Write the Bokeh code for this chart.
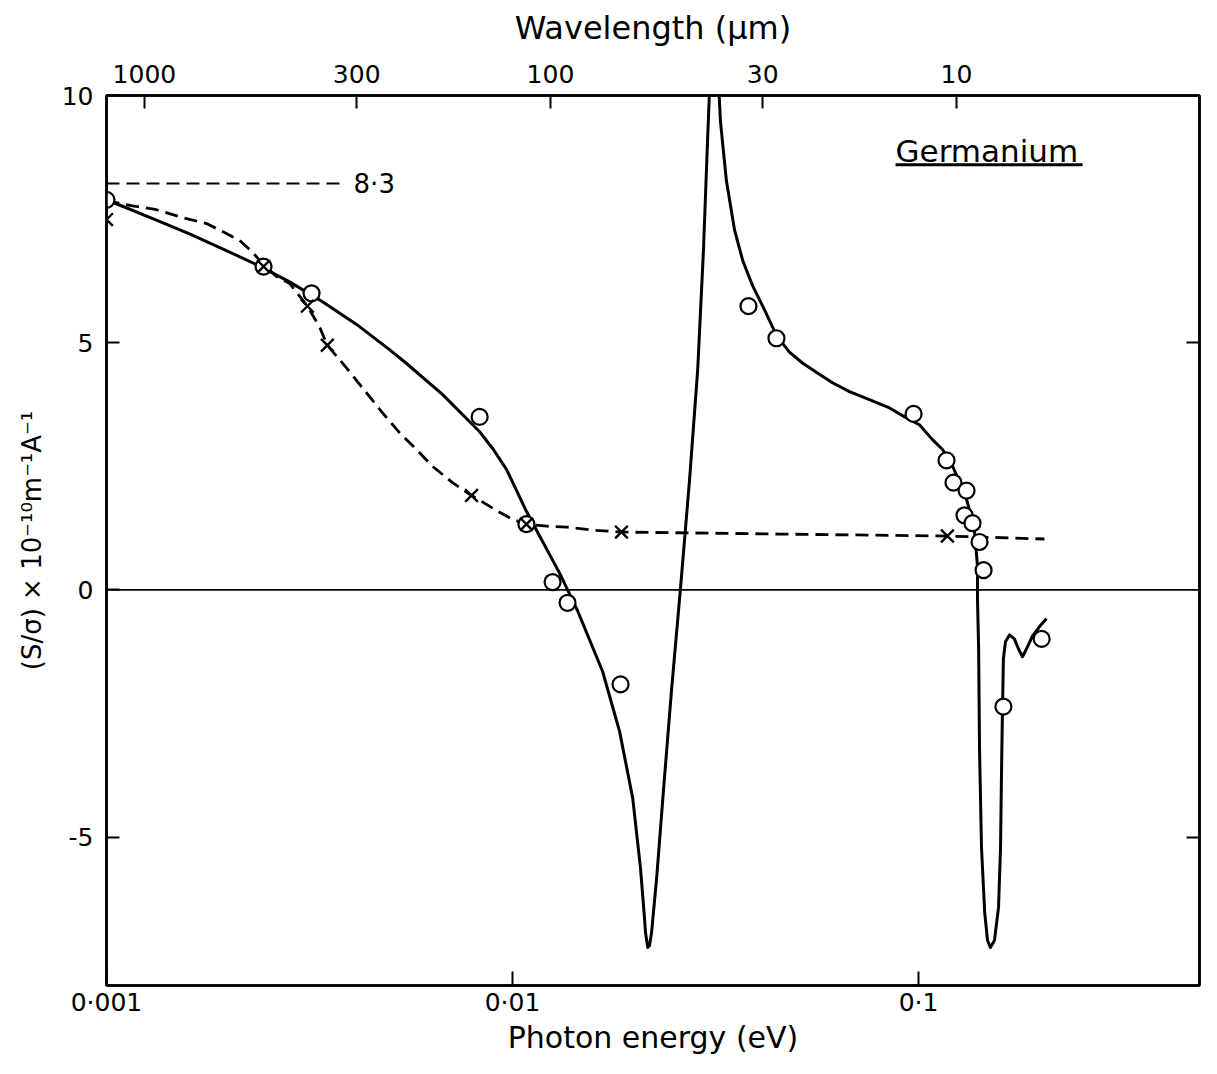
from bokeh.plotting import figure
from bokeh.models import Range1d, LogScale, LogAxis, LinearAxis, FixedTicker, Span, Label
from bokeh.embed import file_html
from bokeh.resources import INLINE

# ---------------- data ----------------
# photon energy (eV) and (S/sigma) x 1e-10 m^-1 A^-1
solid_E = [0.001, 0.001095, 0.001327, 0.001601, 0.001931, 0.002342, 0.002825, 0.003404,
           0.00413, 0.004977, 0.005483, 0.00673, 0.008298, 0.008972, 0.009661, 0.01082,
           0.01166, 0.01306, 0.01446, 0.01667, 0.01835, 0.01977, 0.02066, 0.02113, 0.02126,
           0.02153, 0.02175, 0.022, 0.02265, 0.02356, 0.02466, 0.02594, 0.02729, 0.02858,
           0.02953, 0.03022, 0.03076, 0.03126, 0.03199, 0.03251, 0.03364, 0.03524, 0.0369,
           0.03899, 0.04178, 0.04467, 0.04808, 0.05177, 0.05637, 0.06138, 0.06761, 0.07568,
           0.08482, 0.09337, 0.1005, 0.1082, 0.1146, 0.1213, 0.1262, 0.1313, 0.1343,
           0.1374, 0.1397, 0.1397, 0.1406, 0.1413, 0.1429, 0.1455, 0.1479, 0.1503, 0.1538,
           0.1574, 0.1592, 0.16, 0.161, 0.1618, 0.1637, 0.1675, 0.1722, 0.1762, 0.1803,
           0.1845, 0.1909, 0.1986, 0.2066]
solid_S = [7.89, 7.76, 7.48, 7.20, 6.90, 6.58, 6.23, 5.83,
           5.37, 4.86, 4.58, 3.95, 3.20, 2.84, 2.44, 1.59,
           1.09, 0.34, -0.42, -1.65, -2.86, -4.21, -5.62, -6.62, -6.93,
           -7.23, -7.19, -6.93, -5.82, -4.01, -1.99, 0.06, 2.23, 4.45,
           6.87, 9.08, 10.69, 11.09, 10.69, 9.48, 8.27, 7.27, 6.66,
           6.16, 5.66, 5.15, 4.81, 4.59, 4.39, 4.19, 4.01, 3.85,
           3.68, 3.48, 3.34, 3.04, 2.84, 2.50, 2.19, 1.83, 1.53,
           1.17, 0.48, -0.18, -1.19, -3.20, -5.21, -6.52, -7.09, -7.23, -7.09,
           -6.42, -5.21, -3.81, -2.36, -1.39, -1.05, -0.91, -0.99, -1.19, -1.35,
           -1.19, -0.93, -0.74, -0.58]

dash_E = [0.001, 0.001159, 0.001327, 0.001538, 0.001763, 0.001931, 0.002127, 0.002289,
          0.002422, 0.002622, 0.002825, 0.003125, 0.003346, 0.003499, 0.0039, 0.004365,
          0.004786, 0.005268, 0.0058, 0.006353, 0.007115, 0.007925, 0.00863, 0.00929,
          0.01, 0.01082, 0.01213, 0.01358, 0.01574, 0.01855, 0.04546, 0.1178, 0.2042]
dash_S = [7.87, 7.77, 7.69, 7.53, 7.41, 7.25, 7.07, 6.83,
          6.60, 6.34, 6.20, 5.74, 5.32, 4.95, 4.49, 3.99,
          3.58, 3.18, 2.84, 2.50, 2.17, 1.91, 1.73, 1.57,
          1.43, 1.33, 1.29, 1.27, 1.21, 1.17, 1.13, 1.09, 1.03]

circle_E = [0.001, 0.002437, 0.003199, 0.008298, 0.01082, 0.01255, 0.01366, 0.01845,
            0.03812, 0.04467, 0.09722, 0.1172, 0.1219, 0.1313, 0.1298, 0.1358, 0.1413,
            0.1446, 0.1618, 0.201]
circle_S = [7.89, 6.54, 6.00, 3.50, 1.33, 0.16, -0.26, -1.91,
            5.74, 5.09, 3.56, 2.62, 2.17, 2.01, 1.51, 1.35, 0.97,
            0.40, -2.36, -0.99]

cross_E = [0.001, 0.002437, 0.003125, 0.003499, 0.007925, 0.01082, 0.01855, 0.1178]
cross_S = [7.49, 6.54, 5.74, 4.95, 1.91, 1.33, 1.17, 1.09]

level_E = [0.001, 0.00377]      # extent of the 8.3 reference line
level_S = 8.22
level_text = "8·3"
level_label_E = 0.00406

energy_ticks = [0.001, 0.01, 0.1]
energy_labels = {0.001: "0·001", 0.01: "0·01", 0.1: "0·1"}
wavelength_ticks = [1000, 300, 100, 30, 10]
y_ticks = [-5, 0, 5, 10]
y_labels = {-5: "-5", 0: "0", 5: "5", 10: "10"}

E_MIN, E_MAX = 0.001, 0.492
HC = 1.24  # eV * um

FONT = "DejaVu Sans"

p = figure(width=1201, height=1058, x_axis_type="log",
           x_range=Range1d(E_MIN, E_MAX), y_range=Range1d(-8, 10),
           output_backend="svg", toolbar_location=None,
           min_border_left=106, min_border_top=95, min_border_right=2, min_border_bottom=73)
p.grid.visible = False
p.outline_line_color = "black"
p.outline_line_width = 2.5
p.background_fill_color = "white"
p.border_fill_color = "white"

def style_axis(ax, tick_in=13):
    ax.axis_line_width = 2.5
    ax.axis_line_color = "black"
    ax.major_tick_in = tick_in
    ax.major_tick_out = 0
    ax.major_tick_line_width = 2
    ax.major_tick_line_color = "black"
    ax.minor_tick_line_color = None
    ax.major_label_text_font = FONT
    ax.major_label_text_font_size = "25px"
    ax.major_label_text_color = "black"
    ax.axis_label_text_font = FONT
    ax.axis_label_text_font_style = "normal"
    ax.axis_label_text_color = "black"

xa = p.xaxis[0]
xa.ticker = FixedTicker(ticks=energy_ticks)
xa.major_label_overrides = energy_labels
style_axis(xa, 14)
xa.major_label_standoff = 2
xa.axis_label = "Photon energy (eV)"
xa.axis_label_text_font_size = "30px"
xa.axis_label_standoff = 0

ya = p.yaxis[0]
ya.ticker = FixedTicker(ticks=y_ticks)
ya.major_label_overrides = y_labels
style_axis(ya, 13)
ya.major_label_standoff = 13
ya.axis_label = "(S/σ) × 10⁻¹⁰m⁻¹A⁻¹"
ya.axis_label_text_font_size = "26px"
ya.axis_label_standoff = 12

p.extra_x_ranges = {"wl": Range1d(HC / E_MIN, HC / E_MAX)}
p.extra_x_scales = {"wl": LogScale()}
ta = LogAxis(x_range_name="wl", ticker=FixedTicker(ticks=wavelength_ticks))
style_axis(ta, 13)
ta.major_label_overrides = {t: str(t) for t in wavelength_ticks}
ta.major_label_standoff = 13
ta.axis_label = "Wavelength (µm)"
ta.axis_label_text_font_size = "32px"
ta.axis_label_standoff = 15
p.add_layout(ta, "above")

ra = LinearAxis(ticker=FixedTicker(ticks=[-5, 5]))
style_axis(ra, 13)
ra.major_label_overrides = {-5: "", 5: ""}
ra.major_label_text_color = None
ra.major_label_standoff = 0
p.add_layout(ra, "right")

p.add_layout(Span(location=0, dimension="width", line_color="black", line_width=1.8,
                  level="underlay"))

p.line(solid_E, solid_S, line_color="black", line_width=3, line_join="round")
p.line(dash_E, dash_S, line_color="black", line_width=2.8, line_dash="13 7")
p.line(level_E, [level_S, level_S], line_color="black", line_width=2.2, line_dash="13 7")

p.scatter(circle_E, circle_S, marker="circle", size=16, fill_color="white",
          line_color="black", line_width=2.2)
p.scatter(cross_E, cross_S, marker="x", size=18, line_color="black", line_width=2.4)

p.add_layout(Label(x=level_label_E, y=level_S, text=level_text, text_baseline="middle",
                   text_font=FONT, text_font_size="26px", text_color="black"))

p.add_layout(Label(x=0.08778, y=8.87, text="Germanium", text_baseline="middle",
                   text_font=FONT, text_font_size="31px", text_color="black"))
p.segment(x0=[0.08778], y0=[8.60], x1=[0.2535], y1=[8.60], line_color="black", line_width=3)

open("out.html", "w").write(file_html(p, INLINE))
